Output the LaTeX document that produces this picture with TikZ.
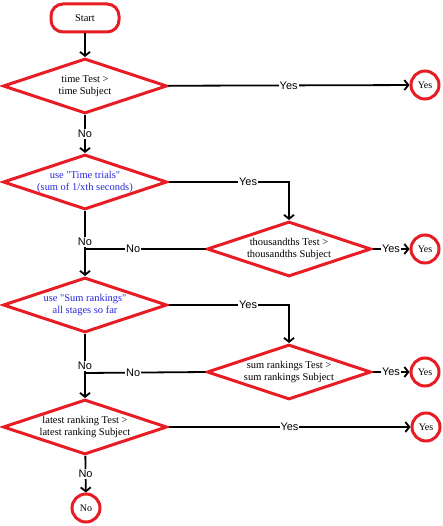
\documentclass[tikz,border=0pt]{standalone}
\usepackage{fontspec}
\setmainfont{Liberation Serif}[Ligatures=TeXOff]
\newfontfamily\lblfont{Liberation Sans}
\usetikzlibrary{shapes.geometric,arrows.meta}
\definecolor{boxred}{RGB}{232,28,36}
\definecolor{qblue}{RGB}{40,40,220}
\begin{document}
\begin{tikzpicture}[x=1bp,y=-1bp,
  box/.style={draw=boxred,line width=3bp},
  dec/.style={box,diamond,minimum width=164bp,minimum height=55bp,inner sep=0pt},
  term/.style={box,circle,minimum size=28bp,inner sep=0pt,font=\fontsize{10}{12}\selectfont},
  txt/.style={align=center,font=\fontsize{10.5}{12}\selectfont},
  btxt/.style={txt,text=qblue},
  conn/.style={line width=1.8bp},
  arr/.style={conn,-{Straight Barb[length=4bp,width=10bp]}},
  lbl/.style={fill=white,inner sep=1bp,font=\lblfont\fontsize{11}{12}\selectfont}
]
\useasboundingbox (0,0) rectangle (443,526);

\node[box,rectangle,rounded corners=12bp,minimum width=68bp,minimum height=28bp,inner sep=0pt,font=\fontsize{10.5}{12}\selectfont] (start) at (85,18) {Start};

\node[dec,label={[txt]center:{time Test >\\time Subject}}] (d1) at (85,86) {};
\node[dec,label={[btxt]center:{use "Time trials"\\(sum of 1/xth seconds)}}] (d2) at (85,182) {};
\node[dec,label={[txt]center:{thousandths Test >\\thousandths Subject}}] (d3) at (289,249) {};
\node[dec,label={[btxt]center:{use "Sum rankings"\\all stages so far}}] (d4) at (85,305) {};
\node[dec,label={[txt]center:{sum rankings Test >\\sum rankings Subject}}] (d5) at (289,372) {};
\node[dec,label={[txt]center:{latest ranking Test >\\latest ranking Subject}}] (d6) at (85,427) {};

\node[term] (y1) at (425,85) {Yes};
\node[term] (y2) at (425,249) {Yes};
\node[term] (y3) at (425,372) {Yes};
\node[term] (y4) at (426,427) {Yes};
\node[term] (no) at (86,508) {No};

\coordinate (j1) at (85,249);
\coordinate (j2) at (85,373);

\draw[arr] (start) -- (d1);
\draw[arr] (d1) -- node[lbl]{Yes} (y1);
\draw[arr] (d1) -- node[lbl]{No} (d2);
\draw[arr] (d2.east) -| node[lbl,pos=0.33]{Yes} (d3.north);
\draw[arr] (d3) -- node[lbl]{Yes} (y2);
\draw[conn] (d2.south) -- node[lbl,pos=0.82]{No} (j1);
\draw[conn] (d3.west) -- node[lbl,pos=0.6]{No} (j1);
\draw[arr] (j1) -- (d4.north);
\draw[arr] (d4.east) -| node[lbl,pos=0.33]{Yes} (d5.north);
\draw[arr] (d5) -- node[lbl]{Yes} (y3);
\draw[conn] (d4.south) -- node[lbl,pos=0.82]{No} (j2);
\draw[conn] (d5.west) -- node[lbl,pos=0.6]{No} (j2);
\draw[arr] (j2) -- (d6.north);
\draw[arr] (d6) -- node[lbl]{Yes} (y4);
\draw[arr] (d6) -- node[lbl]{No} (no);
\end{tikzpicture}
\end{document}
